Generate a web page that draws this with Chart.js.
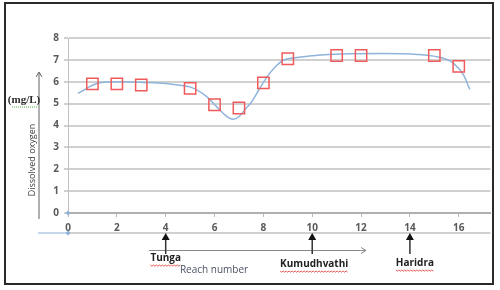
<!DOCTYPE html>
<html>
<head>
<meta charset="utf-8">
<script src="https://cdn.jsdelivr.net/npm/chart.js@4"></script>
<style>
  html, body { margin: 0; padding: 0; background: #fff; }
  #box { position: relative; width: 500px; height: 290px; }
</style>
</head>
<body>
<div id="box"><canvas id="grafico" width="500" height="290"></canvas></div>
<script>
// Pontos medidos (quadrados vermelhos)
const reach = [1, 2, 3, 5, 6, 7, 8, 9, 11, 12, 15, 16]
const oxigenio = [5.9, 5.9, 5.85, 5.7, 4.95, 4.8, 5.95, 7.05, 7.2, 7.2, 7.2, 6.7]

// Curva suave
const curvaX = [0.4, 1.3, 2.2, 3.1, 4.0, 4.5, 5.1, 5.7, 6.1, 6.5, 6.75, 7.0, 7.3, 7.5, 7.8, 8.15, 8.5, 8.8, 9.3, 10.2, 11.2, 12.9, 14.3, 15.4, 15.8, 16.2, 16.45]
const curvaY = [5.47, 5.95, 6.0, 5.97, 5.92, 5.85, 5.72, 5.3, 4.85, 4.42, 4.29, 4.4, 4.8, 5.05, 5.6, 6.22, 6.7, 6.97, 7.1, 7.21, 7.27, 7.29, 7.25, 7.06, 6.83, 6.3, 5.65]

const xTicks = [0, 2, 4, 6, 8, 10, 12, 14, 16]
const yTicks = [0, 1, 2, 3, 4, 5, 6, 7, 8]

// Rios marcados no eixo x
const rios = ['Tunga', 'Kumudhvathi', 'Haridra']
const riosX = [4, 10, 14]

// Desenha setas, títulos e moldura
const extras = {
    id: 'extras',
    afterDraw(chart) {
        const ctx = chart.ctx
        const area = chart.chartArea
        const sx = chart.scales.x
        ctx.save()

        // segunda linha abaixo do eixo
        const y2 = area.bottom + 20
        ctx.strokeStyle = '#d0d0d0'
        ctx.lineWidth = 2
        ctx.beginPath(); ctx.moveTo(area.left, y2); ctx.lineTo(area.right, y2); ctx.stroke()
        ctx.strokeStyle = '#8fb0d8'
        ctx.lineWidth = 1
        ctx.beginPath(); ctx.moveTo(38, y2); ctx.lineTo(area.left, y2); ctx.stroke()
        ctx.fillStyle = '#8fb0d8'
        ;[area.bottom, y2].forEach(function (yy) {
            ctx.beginPath()
            ctx.moveTo(area.left, yy - 2.5); ctx.lineTo(area.left + 2.5, yy)
            ctx.lineTo(area.left, yy + 2.5); ctx.lineTo(area.left - 2.5, yy)
            ctx.closePath(); ctx.fill()
        })

        // título do eixo y
        ctx.fillStyle = '#404040'
        ctx.font = '9px "Open Sans"'
        ctx.textAlign = 'center'
        ctx.textBaseline = 'middle'
        ctx.save()
        ctx.translate(32, 160)
        ctx.rotate(-Math.PI / 2)
        ctx.fillText('Dissolved oxygen', 0, 0)
        ctx.restore()

        // seta vertical
        ctx.strokeStyle = '#606060'
        ctx.lineWidth = 1
        ctx.beginPath(); ctx.moveTo(39, 219); ctx.lineTo(39, 73); ctx.stroke()
        ctx.beginPath(); ctx.moveTo(36, 77); ctx.lineTo(39, 72); ctx.lineTo(42, 77); ctx.stroke()

        // (mg/L)
        ctx.fillStyle = '#2a2a2a'
        ctx.font = 'bold 11px "Liberation Serif"'
        ctx.fillText('(mg/L)', 24, 100)
        ctx.strokeStyle = '#4caf50'
        ctx.setLineDash([1, 1])
        ctx.beginPath(); ctx.moveTo(12, 107); ctx.lineTo(38, 107); ctx.stroke()
        ctx.setLineDash([])

        // seta horizontal e título do eixo x
        ctx.strokeStyle = '#888'
        ctx.beginPath(); ctx.moveTo(149, 250.5); ctx.lineTo(365, 250.5); ctx.stroke()
        ctx.beginPath(); ctx.moveTo(361, 247.5); ctx.lineTo(366, 250.5); ctx.lineTo(361, 253.5); ctx.stroke()
        ctx.fillStyle = '#4a5262'
        ctx.font = '10px "Open Sans"'
        ctx.fillText('Reach number', 214, 270)

        // rios
        const rotuloY = [258, 264, 263]
        const rotuloDx = [0, 2, 5]
        rios.forEach(function (nome, i) {
            const px = sx.getPixelForValue(riosX[i])
            ctx.strokeStyle = '#333'
            ctx.lineWidth = 1.5
            ctx.beginPath(); ctx.moveTo(px, 239); ctx.lineTo(px, 254); ctx.stroke()
            ctx.fillStyle = '#111'
            ctx.beginPath(); ctx.moveTo(px, 233); ctx.lineTo(px + 4, 240); ctx.lineTo(px - 4, 240); ctx.closePath(); ctx.fill()
            ctx.font = 'bold 10px "Open Sans"'
            ctx.fillStyle = '#222'
            const cx = px + rotuloDx[i]
            ctx.fillText(nome, cx, rotuloY[i])
            const w = ctx.measureText(nome).width
            // sublinhado ondulado
            ctx.strokeStyle = '#e03030'
            ctx.lineWidth = 0.8
            ctx.beginPath()
            for (let k = 0; k <= w; k += 1.5) {
                const yy = rotuloY[i] + 7 + ((k / 1.5) % 2 === 0 ? 0 : 1.2)
                if (k === 0) ctx.moveTo(cx - w / 2 + k, yy)
                else ctx.lineTo(cx - w / 2 + k, yy)
            }
            ctx.stroke()
        })

        // moldura
        ctx.strokeStyle = '#2a2a2a'
        ctx.lineWidth = 2
        ctx.strokeRect(5, 3, 488, 281)
        ctx.restore()
    }
}

const pontos = reach.map((v, i) => ({ x: v, y: oxigenio[i] }))
const curva = curvaX.map((v, i) => ({ x: v, y: curvaY[i] }))

new Chart(document.getElementById('grafico'), {
    type: 'scatter',
    data: {
        datasets: [{
            data: curva,
            showLine: true,
            borderColor: '#8fb4dc',
            borderWidth: 1.5,
            pointRadius: 0,
            cubicInterpolationMode: 'monotone',
            order: 2
        }, {
            data: pontos,
            pointStyle: 'rect',
            pointRadius: 8,
            borderColor: '#f05a5a',
            borderWidth: 1.5,
            backgroundColor: 'rgba(0,0,0,0)',
            order: 1
        }]
    },
    options: {
        responsive: false,
        animation: false,
        layout: { padding: { top: 38, right: 9, left: 0, bottom: 0 } },
        plugins: { legend: { display: false }, tooltip: { enabled: false } },
        scales: {
            x: {
                type: 'linear',
                min: 0,
                max: 17.3,
                afterFit: s => { s.height = 77 },
                afterBuildTicks: s => { s.ticks = xTicks.map(v => ({ value: v })) },
                grid: { drawOnChartArea: false, color: '#bbb', tickLength: 4 },
                border: { color: '#b0b0b0', width: 2 },
                ticks: { font: { family: 'Open Sans', weight: 'bold', size: 10 }, color: '#595959', padding: 5, maxRotation: 0 }
            },
            y: {
                min: 0,
                max: 8,
                afterFit: s => { s.width = 68 },
                afterBuildTicks: s => { s.ticks = yTicks.map(v => ({ value: v })) },
                grid: { color: '#d0d0d0', lineWidth: 2, tickLength: 4 },
                border: { color: '#c0c0c0', width: 1 },
                ticks: { font: { family: 'Open Sans', weight: 'bold', size: 10 }, color: '#595959', padding: 5 }
            }
        }
    },
    plugins: [extras]
})
</script>
</body>
</html>
